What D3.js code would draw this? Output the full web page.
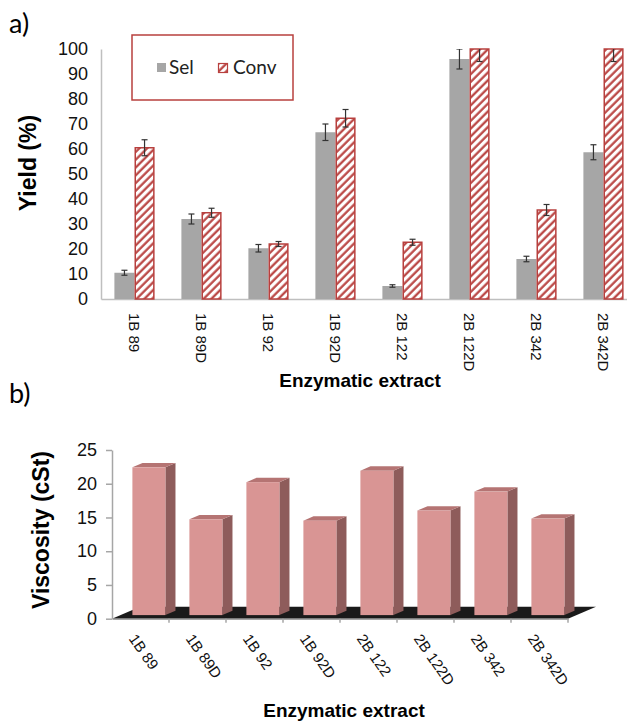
<!DOCTYPE html>
<html>
<head>
<meta charset="utf-8">
<script src="https://cdnjs.cloudflare.com/ajax/libs/d3/7.8.5/d3.min.js"></script>
<style>
  body { margin: 0; background: #fff; }
  svg { display: block; font-family: "Liberation Sans", Arial, sans-serif; }
</style>
</head>
<body>
<svg id="chart" width="627" height="722"></svg>
<script>
// extracts, shared by both panels
const categories = ["1B 89", "1B 89D", "1B 92", "1B 92D", "2B 122", "2B 122D", "2B 342", "2B 342D"];

// panel a) yield (%)
const series = ["Sel", "Conv"];
const selValues = [10.5, 32, 20.3, 66.7, 5.2, 96, 16, 58.7];
const selErrors = [1, 2, 1.5, 3.3, 0.5, 4, 1.1, 3];
const convValues = [60.5, 34.5, 22, 72.3, 22.7, 100, 35.6, 100];
const convErrors = [3.2, 1.8, 1, 3.5, 1.2, 5, 2.2, 5];
const yieldTicks = [0, 10, 20, 30, 40, 50, 60, 70, 80, 90, 100];

// panel b) viscosity (cSt)
const viscosity = [21.9, 14.2, 19.7, 14, 21.4, 15.5, 18.3, 14.3];
const viscTicks = [0, 5, 10, 15, 20, 25];

const red = "#b8403e";
const svg = d3.select("#chart");

// hatch for Conv
const defs = svg.append("defs");
defs.append("pattern")
    .attr("id", "hatch")
    .attr("patternUnits", "userSpaceOnUse")
    .attr("width", 5.5)
    .attr("height", 5.5)
    .attr("patternTransform", "rotate(45)")
  .call(function(p) {
    p.append("rect").attr("width", 5.5).attr("height", 5.5).attr("fill", "#fff");
    p.append("line").attr("x1", 1.5).attr("y1", 0).attr("x2", 1.5).attr("y2", 5.5)
      .attr("stroke", red).attr("stroke-width", 2.2);
  });
defs.append("clipPath").attr("id", "plotclip")
  .append("rect").attr("x", 101).attr("y", 49).attr("width", 540).attr("height", 260);

class YieldView {
  constructor(svg) {
    this.g = svg.append("g");
    this.x = d3.scaleBand().domain(categories).range([101, 637]).paddingInner(0.4).paddingOuter(0.2);
    this.xs = d3.scaleBand().domain(series).range([0, this.x.bandwidth()]);
    this.y = d3.scaleLinear().domain([0, 100]).range([299, 49]);
  }

  draw() {
    const x = this.x, xs = this.xs, y = this.y, g = this.g;
    const rows = categories.map(function(c, i) {
      return [
        {cat: c, key: "Sel", value: selValues[i], err: selErrors[i]},
        {cat: c, key: "Conv", value: convValues[i], err: convErrors[i]}
      ];
    });

    const yAxis = g.append("g")
        .attr("transform", "translate(101,0)")
        .call(d3.axisLeft(y).tickValues(yieldTicks).tickSize(0).tickPadding(13));
    yAxis.select(".domain").attr("stroke", "#bfbfbf").attr("stroke-width", 1.5);
    yAxis.selectAll("text").style("font-size", "18px").attr("fill", "#111");

    const xAxis = g.append("g")
        .attr("transform", "translate(0,299)")
        .call(d3.axisBottom(x).tickSize(0).tickSizeOuter(0));
    xAxis.select(".domain").attr("stroke", "#bfbfbf").attr("stroke-width", 1.5);
    xAxis.selectAll("text")
        .attr("y", 0)
        .attr("x", 14)
        .attr("dy", "0.35em")
        .attr("transform", "rotate(90)")
        .style("text-anchor", "start")
        .style("font-size", "15px")
        .attr("fill", "#111");

    const groups = g.selectAll(".grp")
      .data(rows)
      .enter().append("g")
        .attr("class", "grp")
        .attr("transform", function(d) { return "translate(" + x(d[0].cat) + ",0)"; });

    groups.selectAll("rect")
      .data(function(d) { return d; })
      .enter().append("rect")
        .attr("x", function(d) { return xs(d.key) + (d.key == "Conv" ? 0.75 : 0); })
        .attr("width", function(d) { return xs.bandwidth() - (d.key == "Conv" ? 1.5 : 0); })
        .attr("y", function(d) { return y(d.value); })
        .attr("height", function(d) { return y(0) - y(d.value); })
        .attr("fill", function(d) { return d.key == "Sel" ? "#a6a6a6" : "url(#hatch)"; })
        .attr("stroke", function(d) { return d.key == "Sel" ? "none" : red; })
        .attr("stroke-width", 1.5);

    const err = groups.append("g").attr("clip-path", "url(#plotclip)")
        .attr("transform", function(d) { return "translate(" + (-x(d[0].cat)) + ",0)"; })
      .selectAll(".err")
      .data(function(d) { return d; })
      .enter().append("g")
        .attr("class", "err")
        .attr("transform", function(d) { return "translate(" + (x(d.cat) + xs(d.key) + xs.bandwidth() / 2) + ",0)"; })
        .attr("stroke", "#333")
        .attr("stroke-width", 1.2);
    err.append("line")
        .attr("y1", function(d) { return y(d.value + d.err); })
        .attr("y2", function(d) { return y(d.value - d.err); });
    err.append("line").attr("x1", -3).attr("x2", 3)
        .attr("y1", function(d) { return y(d.value + d.err); })
        .attr("y2", function(d) { return y(d.value + d.err); });
    err.append("line").attr("x1", -3).attr("x2", 3)
        .attr("y1", function(d) { return y(d.value - d.err); })
        .attr("y2", function(d) { return y(d.value - d.err); });

    // legend
    const lg = g.append("g");
    lg.append("rect").attr("x", 132).attr("y", 35).attr("width", 161).attr("height", 65)
        .attr("fill", "#fff").attr("stroke", red).attr("stroke-width", 1.5);
    lg.append("rect").attr("x", 157).attr("y", 63).attr("width", 9).attr("height", 9).attr("fill", "#a6a6a6");
    lg.append("rect").attr("x", 218.5).attr("y", 63.5).attr("width", 9).attr("height", 9)
        .attr("fill", "url(#hatch)").attr("stroke", red).attr("stroke-width", 1.2);
    lg.selectAll(".lt")
      .data([{t: "Sel", x: 169}, {t: "Conv", x: 233}])
      .enter().append("text")
        .attr("x", function(d) { return d.x; })
        .attr("y", 74)
        .style("font-family", "Lato, sans-serif")
        .style("font-size", "19px")
        .attr("fill", "#222")
        .text(function(d) { return d.t; });

    g.append("text")
        .attr("transform", "translate(28,163) rotate(-90)")
        .attr("dy", "0.35em")
        .style("text-anchor", "middle")
        .style("font-weight", "bold")
        .style("font-size", "23px")
        .text("Yield (%)");

    g.append("text")
        .attr("x", 360).attr("y", 387)
        .style("text-anchor", "middle")
        .style("font-weight", "bold")
        .style("font-size", "19px")
        .text("Enzymatic extract");

    g.append("text").attr("x", 9).attr("y", 33)
        .style("font-family", "Lato, sans-serif").style("font-size", "27px").text("a)");
  }
}

class ViscosityView {
  constructor(svg) {
    this.g = svg.append("g");
    this.x = d3.scaleBand().domain(categories).range([112, 568]);
    this.y = d3.scaleLinear().domain([0, 25]).range([618.7, 450]);
    this.depth = {dx: 28, dy: -12};
  }

  draw() {
    const x = this.x, y = this.y, g = this.g, D = this.depth;
    const y0 = y(0), step = x.step();
    const barW = 33, z0 = 0.3, zd = 0.36;

    // floor
    g.append("path")
        .attr("d", "M" + x.range()[0] + "," + y0 + "L" + x.range()[1] + "," + y0 +
          "L" + (x.range()[1] + D.dx) + "," + (y0 + D.dy) + "L" + (x.range()[0] + D.dx) + "," + (y0 + D.dy) + "Z")
        .attr("fill", "#1a1a1a");

    const yAxis = g.append("g")
        .attr("transform", "translate(112,0)")
        .call(d3.axisLeft(y).tickValues(viscTicks).tickSize(6).tickSizeOuter(0).tickPadding(9));
    yAxis.select(".domain").attr("stroke", "#a6a6a6").attr("stroke-width", 1.5);
    yAxis.selectAll("line").attr("stroke", "#a6a6a6").attr("stroke-width", 1.5);
    yAxis.selectAll("text").style("font-size", "18px").attr("fill", "#111");

    const xAxis = g.append("g")
        .attr("transform", "translate(0," + y0 + ")")
        .call(d3.axisBottom(x).tickSize(0).tickSizeOuter(0));
    xAxis.select(".domain").attr("stroke", "#a6a6a6").attr("stroke-width", 1.5);
    xAxis.selectAll("text")
        .attr("x", 0).attr("y", 0)
        .attr("dy", "0.35em")
        .attr("transform", "translate(-8,17) rotate(55)")
        .style("text-anchor", "start")
        .style("font-size", "15px")
        .attr("fill", "#111");
    xAxis.selectAll(".bt")
      .data(categories)
      .enter().append("line")
        .attr("x1", function(d) { return x(d) + step; })
        .attr("x2", function(d) { return x(d) + step; })
        .attr("y1", 0).attr("y2", 4)
        .attr("stroke", "#a6a6a6").attr("stroke-width", 1.5);

    const bars = g.selectAll(".bar3d")
      .data(categories.map(function(c, i) { return {cat: c, value: viscosity[i]}; }))
      .enter().append("g")
        .attr("class", "bar3d");

    function geo(d) {
      const left = x(d.cat) + step / 2 - barW / 2 + z0 * D.dx;
      const base = y0 + z0 * D.dy;
      const top = base - (y0 - y(d.value));
      return {l: left, r: left + barW, b: base, t: top, ddx: zd * D.dx, ddy: zd * D.dy};
    }

    bars.append("path")
        .attr("d", function(d) {
          const q = geo(d);
          return "M" + q.r + "," + q.b + "L" + (q.r + q.ddx) + "," + (q.b + q.ddy) +
            "L" + (q.r + q.ddx) + "," + (q.t + q.ddy) + "L" + q.r + "," + q.t + "Z";
        })
        .attr("fill", "#8e5c5b");
    bars.append("path")
        .attr("d", function(d) {
          const q = geo(d);
          return "M" + q.l + "," + q.t + "L" + q.r + "," + q.t + "L" + (q.r + q.ddx) + "," + (q.t + q.ddy) +
            "L" + (q.l + q.ddx) + "," + (q.t + q.ddy) + "Z";
        })
        .attr("fill", "#b57473");
    bars.append("rect")
        .attr("x", function(d) { return geo(d).l; })
        .attr("y", function(d) { return geo(d).t; })
        .attr("width", barW)
        .attr("height", function(d) { const q = geo(d); return q.b - q.t; })
        .attr("fill", "#d99594");

    g.append("text")
        .attr("transform", "translate(41,530) rotate(-90)")
        .attr("dy", "0.35em")
        .style("text-anchor", "middle")
        .style("font-weight", "bold")
        .style("font-size", "23px")
        .text("Viscosity (cSt)");

    g.append("text")
        .attr("x", 344).attr("y", 717)
        .style("text-anchor", "middle")
        .style("font-weight", "bold")
        .style("font-size", "19px")
        .text("Enzymatic extract");

    g.append("text").attr("x", 9).attr("y", 403)
        .style("font-family", "Lato, sans-serif").style("font-size", "27px").text("b)");
  }
}

const yieldView = new YieldView(svg);
yieldView.draw();
const viscView = new ViscosityView(svg);
viscView.draw();
</script>
</body>
</html>
